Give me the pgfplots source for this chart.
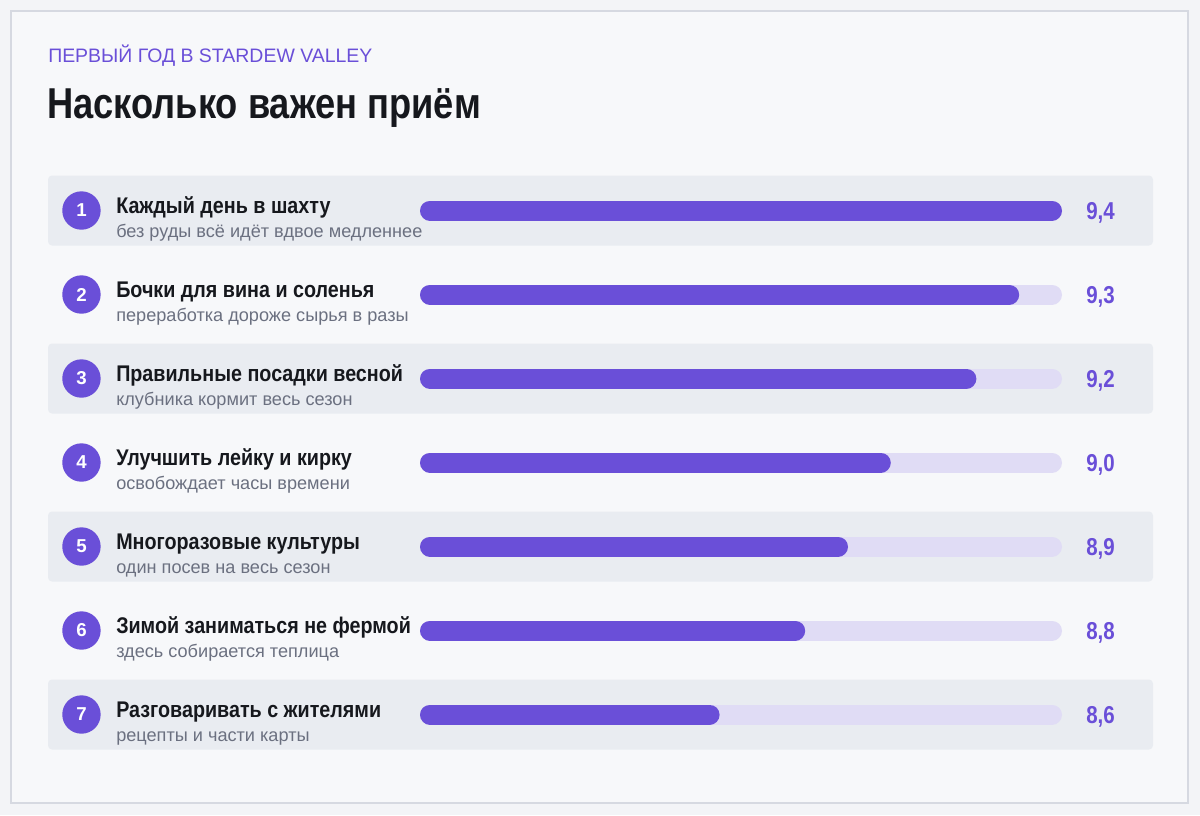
\documentclass[border=0pt]{standalone}
\usepackage{fontspec}
\setmainfont{Liberation Sans}
\newfontfamily\condfont[FakeStretch=0.84]{Liberation Sans}
\newfontfamily\labelfont[FakeStretch=0.87]{Liberation Sans}
\usepackage{pgfplots}
\usepackage{pgfplotstable}
\pgfplotsset{compat=1.18}

\definecolor{outerbg}{HTML}{F3F4F7}
\definecolor{cardbg}{HTML}{F7F8FA}
\definecolor{cardline}{HTML}{D6D9E1}
\definecolor{band}{HTML}{E9ECF1}
\definecolor{barc}{HTML}{6A4FD8}
\definecolor{trackc}{HTML}{E0DCF5}
\definecolor{titlec}{HTML}{16181D}
\definecolor{subc}{HTML}{6B7080}

% rank, score
\pgfplotstableread{
rank value
1 9.4
2 9.3
3 9.2
4 9.0
5 8.9
6 8.8
7 8.6
}\scores

% one row: rank, score, label, note
\newcommand\scorerow[4]{%
  \addplot[draw=trackc, line width=15pt, line cap=round,
    shorten <=7.5pt, shorten >=7.5pt] coordinates {(7.9,#1) (9.4,#1)};
  \addplot[draw=barc, line width=15pt, line cap=round,
    shorten <=7.5pt, shorten >=7.5pt] coordinates {(7.9,#1) (#2,#1)};
  \node[circle, fill=barc, minimum size=28.8pt, inner sep=0pt, text=white,
    font=\bfseries\fontsize{14pt}{14pt}\selectfont]
    at ([xshift=-253.9pt]axis cs:7.9,#1) {#1};
  \node[anchor=base west, inner sep=0pt, text=titlec,
    font=\labelfont\bfseries\fontsize{17pt}{17pt}\selectfont]
    at ([xshift=-228pt, yshift=-2.1pt]axis cs:7.9,#1) {#3};
  \node[anchor=base west, inner sep=0pt, text=subc,
    font=\fontsize{13.6pt}{13.6pt}\selectfont]
    at ([xshift=-228pt, yshift=-20.1pt]axis cs:7.9,#1) {#4};
}

\begin{document}
\begin{tikzpicture}[x=0.75pt, y=0.75pt]
\fill[outerbg] (0,0) rectangle (1200,-815);
\draw[cardline, line width=1.5pt, fill=cardbg] (11,-11) rectangle (1188,-803);
\foreach \yc in {210.5, 378.5, 546.5, 714.5}
  \fill[band, rounded corners=3pt] (48,-\yc+35) rectangle (1153,-\yc-35);

\node[anchor=base west, inner sep=0pt, text=barc,
  font=\fontsize{14.6pt}{14.6pt}\selectfont] at (48,-62) {ПЕРВЫЙ ГОД В STARDEW VALLEY};
\node[anchor=base west, inner sep=0pt, text=titlec,
  font=\condfont\bfseries\fontsize{32.4pt}{32.4pt}\selectfont] at (47,-118.3) {Насколько важен приём};

\coordinate (axpos) at (420,-168.5);
\begin{axis}[
    at={(axpos)}, anchor=north west,
    scale only axis, width=481.5pt, height=441pt,
    xmin=7.9, xmax=9.4, ymin=0.5, ymax=7.5, y dir=reverse,
    hide axis, clip=false,
    /pgf/number format/assume math mode=true,
]
\scorerow{1}{9.4}{Каждый день в шахту}{без руды всё идёт вдвое медленнее}
\scorerow{2}{9.3}{Бочки для вина и соленья}{переработка дороже сырья в разы}
\scorerow{3}{9.2}{Правильные посадки весной}{клубника кормит весь сезон}
\scorerow{4}{9.0}{Улучшить лейку и кирку}{освобождает часы времени}
\scorerow{5}{8.9}{Многоразовые культуры}{один посев на весь сезон}
\scorerow{6}{8.8}{Зимой заниматься не фермой}{здесь собирается теплица}
\scorerow{7}{8.6}{Разговаривать с жителями}{рецепты и части карты}
\addplot[draw=none, mark=none, point meta=explicit,
  nodes near coords={\pgfmathprintnumber[fixed, fixed zerofill, precision=1, use comma]{\pgfplotspointmeta}},
  nodes near coords style={anchor=base west, inner sep=0pt, xshift=18pt, yshift=-6.5pt, text=barc,
    font=\condfont\bfseries\fontsize{18.3pt}{18.3pt}\selectfont}]
  table[x expr=9.4, y=rank, meta=value] {\scores};
\end{axis}
\end{tikzpicture}
\end{document}
